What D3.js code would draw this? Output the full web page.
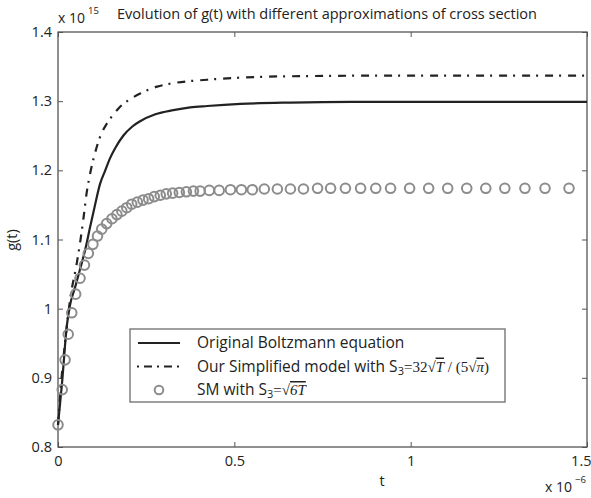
<!DOCTYPE html>
<html>
<head>
<meta charset="utf-8">
<script src="https://cdn.jsdelivr.net/npm/d3@7"></script>
<style>
  body { margin: 0; background: #fff; }
  text { font-family: "Open Sans", Lato, sans-serif; fill: #222; }
</style>
</head>
<body>
<div id="chart"></div>
<script>
// time in units of 1e-6, g(t) in units of 1e15
var tBoltz = [0, 0.011, 0.025, 0.034, 0.048, 0.0625, 0.077, 0.091, 0.105, 0.119, 0.134, 0.148, 0.162, 0.185, 0.21, 0.233, 0.276, 0.327, 0.375, 0.423, 0.517, 0.659, 0.83, 1.114, 1.5];
var gBoltz = [0.832, 0.89, 0.975, 1.005, 1.03, 1.057, 1.085, 1.118, 1.15, 1.18, 1.2, 1.218, 1.232, 1.25, 1.263, 1.271, 1.281, 1.287, 1.291, 1.293, 1.296, 1.298, 1.299, 1.299, 1.299];

var tSimp = [0, 0.011, 0.023, 0.034, 0.053, 0.0625, 0.072, 0.082, 0.091, 0.105, 0.119, 0.139, 0.156, 0.176, 0.196, 0.233, 0.281, 0.327, 0.423, 0.517, 0.659, 0.972, 1.5];
var gSimp = [0.832, 0.905, 0.965, 1.012, 1.065, 1.095, 1.13, 1.17, 1.195, 1.225, 1.248, 1.268, 1.28, 1.292, 1.3, 1.311, 1.321, 1.326, 1.331, 1.334, 1.336, 1.337, 1.337];

var tSM = [0, 0.012, 0.02, 0.029, 0.039, 0.05, 0.0625, 0.075, 0.086, 0.099, 0.112, 0.124, 0.138, 0.153, 0.167, 0.181, 0.195, 0.209, 0.225, 0.241, 0.257, 0.273, 0.29, 0.307, 0.325, 0.344, 0.364, 0.384, 0.403, 0.429, 0.457, 0.489, 0.52, 0.551, 0.585, 0.622, 0.659, 0.696, 0.736, 0.773, 0.815, 0.858, 0.901, 0.943, 0.997, 1.051, 1.105, 1.159, 1.213, 1.267, 1.324, 1.381, 1.449];
var gSM = [0.832, 0.883, 0.926, 0.963, 0.994, 1.021, 1.044, 1.063, 1.08, 1.093, 1.105, 1.115, 1.123, 1.13, 1.136, 1.141, 1.146, 1.151, 1.154, 1.157, 1.159, 1.162, 1.164, 1.166, 1.167, 1.168, 1.169, 1.17, 1.17, 1.171, 1.171, 1.172, 1.172, 1.172, 1.173, 1.173, 1.173, 1.173, 1.174, 1.174, 1.174, 1.174, 1.174, 1.174, 1.174, 1.174, 1.174, 1.174, 1.174, 1.174, 1.174, 1.174, 1.174];

var xTicks = [0, 0.5, 1, 1.5];
var yTicks = [0.8, 0.9, 1, 1.1, 1.2, 1.3, 1.4];

var w = 591, h = 498;
var margin = {left: 58, right: 4, top: 32, bottom: 51};

var svg = d3.select("#chart").append("svg")
    .attr("width", w)
    .attr("height", h);

var x = d3.scaleLinear().domain([0, 1.5]).range([margin.left, w - margin.right]);
var y = d3.scaleLinear().domain([0.8, 1.4]).range([h - margin.bottom, margin.top]);

// axes, ticks pointing inward like matlab
var frameColor = "#555";
function styleAxis(g) {
    g.select(".domain").remove();
    g.selectAll(".tick line").attr("stroke", frameColor).attr("stroke-width", 1);
    g.selectAll(".tick text").style("font-size", "14.5px").attr("fill", "#222");
}
var fmt = function (d) { return String(d); };

var xAxis = svg.append("g").attr("transform", "translate(0," + y(0.8) + ")")
    .call(d3.axisBottom(x).tickValues(xTicks).tickSize(-5).tickPadding(9).tickFormat(fmt))
    .call(styleAxis);
// last label is cut by the figure edge in the original, keep it inside here
xAxis.selectAll(".tick text").filter(function (d) { return d === 1.5; })
    .attr("text-anchor", "end").attr("x", 4);

svg.append("g").attr("transform", "translate(0," + y(1.4) + ")")
    .call(d3.axisTop(x).tickValues(xTicks).tickSize(-5).tickFormat(""))
    .call(styleAxis);
svg.append("g").attr("transform", "translate(" + x(0) + ",0)")
    .call(d3.axisLeft(y).tickValues(yTicks).tickSize(-5).tickPadding(6).tickFormat(fmt))
    .call(styleAxis);
svg.append("g").attr("transform", "translate(" + x(1.5) + ",0)")
    .call(d3.axisRight(y).tickValues(yTicks).tickSize(-5).tickFormat(""))
    .call(styleAxis);

// frame
svg.append("rect")
    .attr("x", x(0)).attr("y", y(1.4))
    .attr("width", x(1.5) - x(0)).attr("height", y(0.8) - y(1.4))
    .attr("fill", "none").attr("stroke", frameColor).attr("stroke-width", 1.3);

var line = d3.line().x(function (d) { return x(d[0]); }).y(function (d) { return y(d[1]); }).curve(d3.curveMonotoneX);

var boltz = tBoltz.map(function (t, i) { return [t, gBoltz[i]]; });
var simp = tSimp.map(function (t, i) { return [t, gSimp[i]]; });
var sm = tSM.map(function (t, i) { return [t, gSM[i]]; });

svg.append("path").datum(simp)
    .attr("d", line).attr("fill", "none")
    .attr("stroke", "#222").attr("stroke-width", 2.2)
    .attr("stroke-dasharray", "8,6,2,7");

svg.append("path").datum(boltz)
    .attr("d", line).attr("fill", "none")
    .attr("stroke", "#222").attr("stroke-width", 2.2);

svg.selectAll(".sm").data(sm).enter().append("circle")
    .attr("class", "sm")
    .attr("cx", function (d) { return x(d[0]); })
    .attr("cy", function (d) { return y(d[1]); })
    .attr("r", 4.8)
    .attr("fill", "none").attr("stroke", "#8c8c8c").attr("stroke-width", 2);

// titles and multipliers
svg.append("text").attr("x", 327).attr("y", 19).attr("text-anchor", "middle")
    .style("font-size", "14.5px")
    .text("Evolution of g(t) with different approximations of cross section");

var m1 = svg.append("text").attr("x", 58).attr("y", 23).style("font-size", "14px");
m1.append("tspan").text("x 10");
m1.append("tspan").attr("dx", 3).attr("dy", -9).style("font-size", "9.5px").text("15");

var m2 = svg.append("text").attr("x", 545).attr("y", 492).style("font-size", "14px");
m2.append("tspan").text("x 10");
m2.append("tspan").attr("dx", 3).attr("dy", -9).style("font-size", "9.5px").text("\u22126");

svg.append("text").attr("x", 382).attr("y", 486).attr("text-anchor", "middle")
    .style("font-size", "14.5px").text("t");

svg.append("text").attr("transform", "translate(17,240) rotate(-90)")
    .attr("text-anchor", "middle").style("font-size", "14.5px").text("g(t)");

// legend
var lg = svg.append("g");
lg.append("rect").attr("x", 130).attr("y", 329).attr("width", 375).attr("height", 73)
    .attr("fill", "#fff").attr("stroke", "#777").attr("stroke-width", 1.4);

var rows = [343, 366.5, 390];
lg.append("line").attr("x1", 138).attr("x2", 180).attr("y1", rows[0]).attr("y2", rows[0])
    .attr("stroke", "#222").attr("stroke-width", 2.2);
lg.append("line").attr("x1", 137).attr("x2", 181).attr("y1", rows[1]).attr("y2", rows[1])
    .attr("stroke", "#222").attr("stroke-width", 2.2).attr("stroke-dasharray", "2,5,8,5");
lg.append("circle").attr("cx", 159).attr("cy", rows[2]).attr("r", 4.3)
    .attr("fill", "none").attr("stroke", "#8c8c8c").attr("stroke-width", 2);

var serif = "'Liberation Serif', 'DejaVu Serif', serif";
var tx = 197, fs = "15.5px", fsSerif = "15px";
lg.append("text").attr("x", tx).attr("y", rows[0] + 5).style("font-size", fs)
    .text("Original Boltzmann equation");

var r2 = lg.append("text").attr("x", tx).attr("y", rows[1] + 5).style("font-size", fs);
r2.append("tspan").text("Our Simplified model with S");
r2.append("tspan").attr("dy", 3).style("font-size", "11px").text("3");
r2.append("tspan").attr("dy", -3).style("font-family", serif).style("font-size", fsSerif).text("=32\u221A");
r2.append("tspan").style("font-family", serif).style("font-size", fsSerif).style("font-style", "italic")
    .style("text-decoration", "overline").text("T");
r2.append("tspan").style("font-family", serif).style("font-size", fsSerif).text(" / (5\u221A");
r2.append("tspan").style("font-family", serif).style("font-size", fsSerif).style("font-style", "italic")
    .style("text-decoration", "overline").text("\u03C0");
r2.append("tspan").style("font-family", serif).style("font-size", fsSerif).text(")");

var r3 = lg.append("text").attr("x", tx).attr("y", rows[2] + 5).style("font-size", fs);
r3.append("tspan").text("SM with S");
r3.append("tspan").attr("dy", 3).style("font-size", "11px").text("3");
r3.append("tspan").attr("dy", -3).style("font-family", serif).style("font-size", fsSerif).text("=\u221A");
r3.append("tspan").style("font-family", serif).style("font-size", fsSerif).style("font-style", "italic")
    .style("text-decoration", "overline").text("6T");
</script>
</body>
</html>
